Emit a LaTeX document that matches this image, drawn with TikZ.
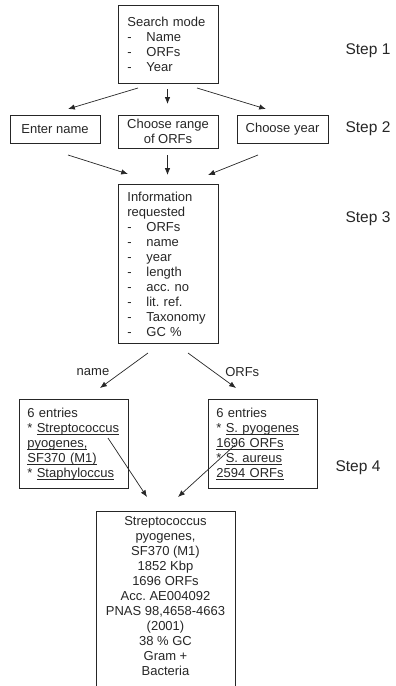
\documentclass[tikz,border=0pt]{standalone}
\usepackage{fontspec}
\setmainfont{Liberation Sans}
\frenchspacing
\usetikzlibrary{arrows.meta,calc}
\colorlet{ink}{black!85}
\newcommand{\boxfont}{\fontsize{13}{15}\selectfont}
\newcommand{\stepfont}{\fontsize{15.5}{18}\selectfont}
\newcommand{\itm}[1]{\makebox[19pt][l]{-}#1}
\newcommand{\ulin}[1]{\leavevmode\setbox0\hbox{#1}\rlap{\rule[-2.3pt]{\wd0}{0.9pt}}\box0}
\tikzset{
    arrow/.style     = {-{Latex[length=2.4mm,width=1.9mm]}, line width=0.7pt, draw=ink},
    box/.style       = {draw=ink, line width=0.8pt, inner sep=0pt, text=ink, font=\boxfont},
    listbox/.style   = {box, align=left, anchor=north west},
    choicebox/.style = {box, align=center},
    steplabel/.style = {text=ink, font=\stepfont},
    edgelabel/.style = {text=ink, font=\boxfont, inner sep=0pt}
}

\begin{document}
\begin{tikzpicture}[x=1pt, y=-1pt]

    \clip (0,0) rectangle (396,686);

    % ---------- step 1: search mode ----------
    \node[listbox, text width=82pt, inner xsep=9pt, minimum height=78pt]
      (search) at (118,5)
      {Search mode\\ \itm{Name}\\ \itm{ORFs}\\ \itm{Year}};
    \node[steplabel] (step1) at (368,51) {Step 1};

    % ---------- step 2: choices ----------
    \node[choicebox, minimum width=90pt, minimum height=28pt]
      (entername) at (55,129) {Enter name};
    \node[choicebox, minimum width=100pt, minimum height=33pt]
      (chooseorf) at (168,131.5) {Choose range\\of ORFs};
    \node[choicebox, minimum width=91pt, minimum height=28pt]
      (chooseyear) at (282.5,129) {Choose year};
    \node[steplabel] (step2) at (368,129) {Step 2};

    % ---------- step 3: information requested ----------
    \node[listbox, text width=82pt, inner xsep=9pt, minimum height=159pt]
      (info) at (118,184)
      {Information\\ requested\\ \itm{ORFs}\\ \itm{name}\\ \itm{year}\\
       \itm{length}\\ \itm{acc. no}\\ \itm{lit. ref.}\\ \itm{Taxonomy}\\ \itm{GC \%}};
    \node[steplabel] (step3) at (368,219) {Step 3};

    % ---------- step 4: hit lists ----------
    \node[listbox, text width=93pt, inner xsep=8pt, minimum height=89pt]
      (byname) at (19,399)
      {6 entries\\ {*}~\ulin{Streptococcus}\\ \ulin{pyogenes,}\\ \ulin{SF370 (M1)}\\
       {*}~\ulin{Staphyloccus}};
    \node[listbox, text width=93pt, inner xsep=8pt, minimum height=89pt]
      (byorf) at (208,399)
      {6 entries\\ {*}~\ulin{S. pyogenes}\\ \ulin{1696 ORFs}\\ {*}~\ulin{S. aureus}\\
       \ulin{2594 ORFs}};
    \node[steplabel] (step4) at (358,468) {Step 4};

    % ---------- genome record ----------
    \node[box, align=center, anchor=north, minimum width=139pt, inner ysep=5pt]
      (record) at (165.5,511)
      {Streptococcus\\ pyogenes,\\ SF370 (M1)\\ 1852 Kbp\\ 1696 ORFs\\
       Acc. AE004092\\ PNAS 98,4658-4663\\ (2001)\\ 38 \% GC\\ Gram +\\
       Bacteria\rule[-16pt]{0pt}{16pt}};

    % =================================================
    % arrow end points
    % =================================================
    \coordinate (sA) at (138,88);   \coordinate (eA) at (68,109);
    \coordinate (sB) at (167.5,89); \coordinate (eB) at (167.5,104);
    \coordinate (sC) at (197,88);   \coordinate (eC) at (266,109);
    \coordinate (sD) at (68,155);   \coordinate (eD) at (128,174);
    \coordinate (sE) at (167.5,155);\coordinate (eE) at (167.5,175);
    \coordinate (sF) at (258,155);  \coordinate (eF) at (208,175);
    \coordinate (sG) at (148,353);  \coordinate (eG) at (100,388);
    \coordinate (sH) at (188,353);  \coordinate (eH) at (236,388);
    \coordinate (sI) at (108,438);  \coordinate (eI) at (147,497);
    \coordinate (sJ) at (235,445);  \coordinate (eJ) at (178,497);

    \draw[arrow] (sA) -- (eA);
    \draw[arrow] (sB) -- (eB);
    \draw[arrow] (sC) -- (eC);

    \draw[arrow] (sD) -- (eD);
    \draw[arrow] (sE) -- (eE);
    \draw[arrow] (sF) -- (eF);

    \draw[arrow] (sG) -- (eG)
      node[edgelabel, pos=0.55, left=12pt] (lname) {name};
    \draw[arrow] (sH) -- (eH)
      node[edgelabel, pos=0.54, right=11pt] (lorf) {ORFs};

    \draw[arrow] (sI) -- (eI);
    \draw[arrow] (sJ) -- (eJ);

\end{tikzpicture}
\end{document}
